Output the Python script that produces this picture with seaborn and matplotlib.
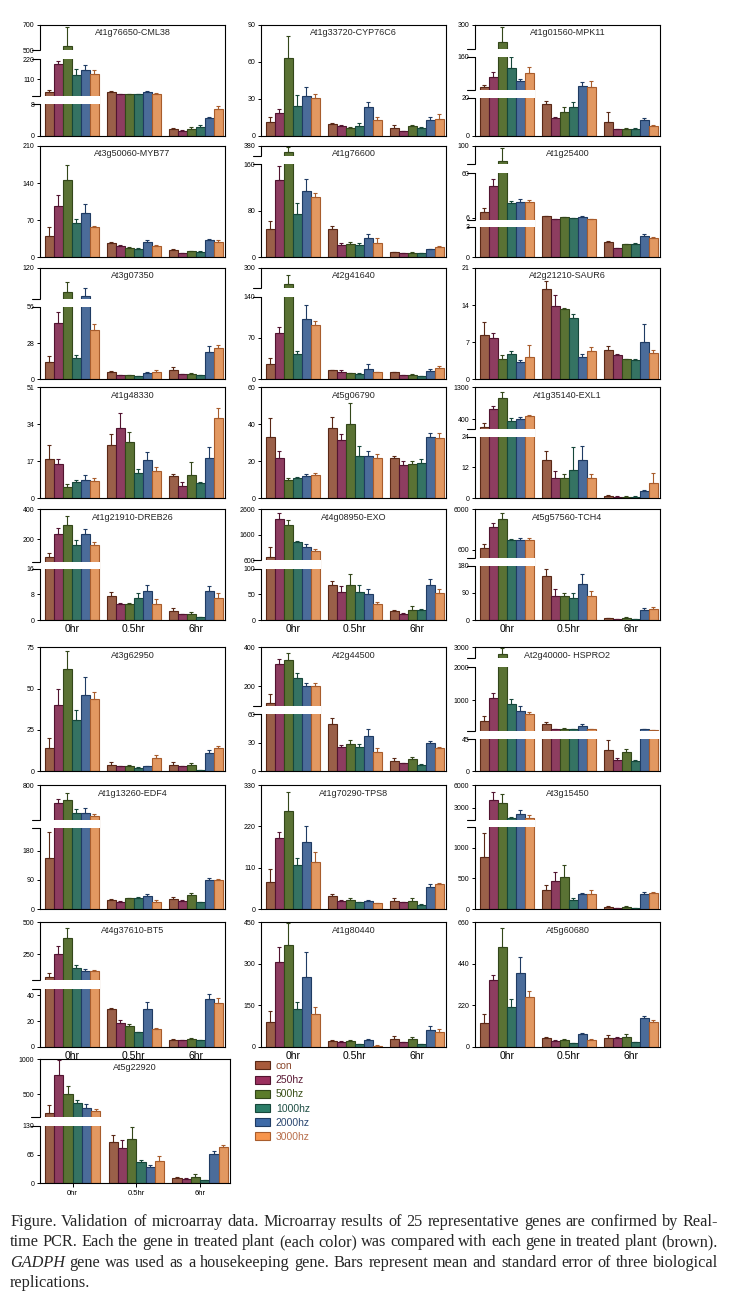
import numpy as np
import pandas as pd
import seaborn as sns
import matplotlib.pyplot as plt
from matplotlib.patches import Rectangle, Patch
from matplotlib.transforms import IdentityTransform

sns.set_style("ticks", {"axes.edgecolor": "black", "xtick.color": "black", "ytick.color": "black"})
plt.rcParams["font.family"] = ["Liberation Sans", "DejaVu Sans"]

times = ["0hr", "0.5hr", "6hr"]
treatments = ["con", "250hz", "500hz", "1000hz", "2000hz", "3000hz"]
bar_colors = ["#a85a3b", "#9b2f5e", "#5c7c2a", "#2b7d68", "#3e6aa7", "#f7954c"]
edge_colors = ["#5a2816", "#521430", "#33471a", "#16473a", "#1f3b63", "#a85c2c"]
label_colors = ["#8b4a2e", "#5a1a35", "#3a4f18", "#1f4f45", "#2a4670", "#b86e4b"]

genes = ["At1g76650-CML38", "At1g33720-CYP76C6", "At1g01560-MPK11",
         "At3g50060-MYB77", "At1g76600", "At1g25400",
         "At3g07350", "At2g41640", "At2g21210-SAUR6",
         "At1g48330", "At5g06790", "At1g35140-EXL1",
         "At1g21910-DREB26", "At4g08950-EXO", "At5g57560-TCH4",
         "At3g62950", "At2g44500", "At2g40000- HSPRO2",
         "At1g13260-EDF4", "At1g70290-TPS8", "At3g15450",
         "At4g37610-BT5", "At1g80440", "At5g60680",
         "At5g22920"]

# mean per gene: 0hr (con..3000hz), 0.5hr, 6hr
means = [
    [42, 194, 532, 134, 161, 139, 42, 29, 29, 29, 42, 29, 1.85, 1.3, 1.85, 2.4, 4.6, 6.8],
    [11, 18.3, 62.8, 24, 32.3, 30.5, 9.7, 8.1, 6.7, 8.1, 23.2, 12.9, 6.5, 4, 8.1, 6.7, 12.9, 13.7],
    [35.8, 76, 228, 112.6, 61, 92, 16.7, 9.2, 12.3, 15.3, 41, 35.8, 7.5, 3.5, 3.8, 3.8, 8.3, 5.2],
    [40.9, 96, 145, 64, 83, 56.6, 26.4, 20.8, 17.6, 15.7, 29, 21.4, 13.8, 7.5, 11.3, 10.7, 32.7, 29],
    [48, 132.6, 329, 74, 113.7, 103, 48, 21, 22, 21, 32.6, 24, 8.6, 6.9, 8, 6.9, 13.7, 18.3],
    [13.3, 44.7, 83.6, 24.3, 25.5, 25.5, 8, 4.4, 6.4, 5.2, 7.2, 4.4, 1.53, 0.88, 1.27, 1.27, 2.08, 1.92],
    [13.2, 43.8, 88.7, 16.8, 83.5, 38.4, 5.6, 3.1, 3.1, 2.3, 4.8, 5.6, 6.9, 3.8, 3.8, 3.1, 20.9, 23.9],
    [25.4, 78.5, 218, 42.4, 102.8, 91.5, 15.3, 12.4, 10.7, 9.6, 18, 12.4, 12.4, 6.8, 7.9, 5.6, 14.1, 19.2],
    [8.4, 7.8, 3.9, 4.7, 3.3, 4.2, 17, 13.8, 13.2, 11.6, 4.3, 5.3, 5.5, 4.5, 3.8, 3.7, 7, 5],
    [17.9, 15.6, 5.1, 7.4, 8.4, 7.9, 24.5, 32.2, 25.7, 11.5, 17.6, 12.6, 10.3, 5.7, 10.6, 7.2, 18.4, 36.8],
    [33, 21.6, 9.9, 11.2, 12.1, 12.6, 37.8, 31.5, 40, 22.9, 22.9, 21.6, 21.6, 18, 18.6, 18.9, 33, 32.4],
    [175, 681, 990, 362, 400, 494, 14.9, 7.8, 7.8, 11, 14.9, 7.8, 0.9, 0.65, 0.65, 0.65, 2.85, 5.8],
    [80, 235.6, 295.6, 162, 235.6, 162, 7.6, 5, 5, 6.8, 9.1, 4.9, 2.8, 1.9, 1.9, 0.85, 9.1, 6.8],
    [731, 2205, 1979, 1297, 1126, 955, 68.6, 54.9, 68.6, 54.9, 51, 30.7, 17.6, 11.8, 19.6, 19.6, 68.6, 53.6],
    [821, 3610, 4672, 1928, 1928, 1928, 146.7, 81, 81, 72, 118.9, 80, 5.6, 2.2, 5.6, 4.4, 33, 36.7],
    [13.7, 40, 61.8, 30.7, 45.9, 43.6, 3.6, 3, 3.2, 2, 3, 8.1, 3.6, 3, 3.6, 0.6, 11.1, 14.1],
    [112, 312, 337, 244, 202, 200, 49.8, 25, 28.6, 25, 37.1, 20.5, 11, 8.1, 12.7, 6.4, 29.3, 24.7],
    [357, 1051, 2714, 878, 663, 571, 265, 112, 112, 112, 204, 102, 30.4, 15.9, 27, 13.5, 102, 82],
    [157, 590, 629, 476, 476, 446, 27.9, 22.7, 33, 35, 40, 22.7, 31, 25.8, 43.4, 21.7, 90, 90],
    [71, 188, 261, 117, 177.5, 124, 34.6, 21.3, 24, 17.7, 22, 15.1, 21.3, 17.7, 22.2, 10.6, 57.7, 66.5],
    [842, 4015, 3573, 1676, 2117, 1676, 310, 456.5, 516, 147, 245, 245, 27, 11, 27, 11, 245, 255],
    [75, 255, 379, 147, 119, 119, 29.4, 18.2, 16.1, 11.2, 29.1, 13.8, 5.2, 5.2, 5.7, 5.2, 36.9, 33.8],
    [88, 307.6, 368, 135, 251, 117, 20.5, 18, 20.5, 8.4, 24, 3.6, 26.5, 15.7, 26.5, 8.4, 60.3, 51.9],
    [124, 352, 527, 209, 389, 262, 44, 30, 35, 19.5, 67, 35, 48, 44, 53, 23, 150, 133],
    [241, 774, 505, 382, 311, 264, 93.7, 80.9, 100.5, 48.4, 37.8, 50.6, 11.3, 9.8, 13.6, 7.6, 65.8, 83],
]

# standard error (upper bar only)
errors = [
    [10, 18, 147, 31, 28, 22, 4, 2, 2, 2, 6, 7, 0.3, 0.1, 0.5, 0.4, 0.3, 0.9],
    [4, 3.5, 18, 9, 7.7, 3.2, 0.5, 0.8, 0.8, 2.1, 4.6, 2.1, 2.1, 0.3, 0.8, 0.5, 2.2, 3.8],
    [10.8, 22, 61, 44, 8, 27, 1.7, 0.9, 3, 2.6, 14.8, 25, 4.8, 0.2, 0.3, 0.3, 1.1, 0.4],
    [15.7, 21, 29, 9, 17.6, 3.1, 3.2, 2.5, 1, 1.2, 3.7, 1.2, 1.2, 1.2, 0.8, 0.6, 1.9, 3.7],
    [14, 24.4, 46, 20, 20.3, 8, 6, 3, 5, 3, 6.8, 8.6, 1.1, 0.5, 0.5, 0.5, 0.6, 1.7],
    [4.1, 8.1, 13.9, 2.1, 3.3, 2, 0.6, 0.3, 0.3, 0.3, 0.4, 0.3, 0.05, 0.03, 0.03, 0.1, 0.17, 0.08],
    [5.1, 8.2, 13, 2.2, 10.4, 4.3, 0.8, 0.3, 0.5, 0.3, 0.8, 1.3, 3, 0.3, 1.3, 0.3, 5.1, 2.6],
    [11.3, 10.2, 49, 5.6, 22.6, 6.8, 0.8, 2.9, 0.8, 0.5, 7.4, 0.8, 0.8, 0.5, 0.5, 0.3, 2.9, 3.4],
    [2.4, 1, 0.6, 0.6, 0.3, 2.3, 1.5, 2.2, 0.3, 0.8, 0.4, 0.8, 0.7, 0.3, 0.1, 0.1, 3.4, 0.5],
    [6.4, 2.6, 1.3, 1, 2.3, 1.6, 4.9, 6.8, 4.6, 1.8, 3.5, 1.9, 0.7, 1.7, 5.9, 0.2, 5, 4.5],
    [10.2, 4, 1.3, 0.5, 0.9, 0.9, 6, 3.1, 11.4, 5.4, 2.7, 2.2, 1.3, 2.2, 1.8, 2.2, 2.1, 2.7],
    [112, 94, 188, 85, 56, 28, 3.5, 2.8, 1.5, 9.1, 5.6, 1.5, 0.3, 0.05, 0.05, 0.05, 0.35, 4.2],
    [31, 37, 60, 33, 31, 18, 1.3, 0.2, 0.2, 1.6, 1.8, 1.7, 0.9, 0.1, 0.5, 0.1, 1.7, 1.6],
    [395, 263, 200, 66, 92, 66, 7.9, 11.8, 21.4, 13.7, 9, 3.9, 2, 1.2, 7.9, 2, 11.1, 6.4],
    [531, 531, 885, 133, 221, 221, 22.2, 21, 10, 19, 34, 16.7, 1, 0.5, 3.3, 0.5, 5.9, 7.7],
    [6.5, 9.7, 10.9, 6.1, 10.9, 4.5, 1.7, 0.2, 0.4, 0.2, 0.2, 1.6, 1.7, 0.2, 1, 0.1, 1.4, 1.1],
    [49, 29, 34, 25.5, 12, 14, 6, 2.6, 4.3, 3.6, 7.1, 3.5, 3.1, 0.7, 1.8, 0.7, 2.5, 0.5],
    [153, 153, 243, 142, 153, 51, 51, 10, 21, 10, 72, 5, 13.1, 2.5, 4.4, 2.4, 3, 3],
    [80, 50, 76, 50, 57, 19, 2, 2, 2, 3, 5.5, 5.2, 5, 2, 7.3, 1, 7.2, 3],
    [34.6, 18, 51, 18, 43.5, 27, 4.4, 1.5, 4.4, 1, 1.5, 1.5, 7.1, 1.8, 6.2, 1.8, 8.8, 1.8],
    [403, 1014, 1191, 132, 573, 353, 81, 141.5, 201, 27, 10, 65, 22, 3, 27, 3, 38, 17],
    [31, 59, 75, 23, 20, 12, 0.5, 2.6, 1.3, 0.3, 5.4, 0.5, 0.8, 0.3, 0.8, 0.3, 3.9, 4.4],
    [41, 52.4, 78, 28, 93, 26.5, 2.5, 1, 3.5, 1, 2.5, 1, 10.9, 2, 7.3, 2, 15.7, 10.8],
    [48, 27, 105, 42, 85, 35, 7, 3, 3.5, 2, 3.5, 3.5, 14, 5, 12.5, 2, 13, 7],
    [108, 212, 118, 38, 47, 28, 15.9, 17.4, 26.5, 4.6, 3.8, 11.4, 2.3, 1.5, 6.8, 0.8, 7.5, 3],
]

yticks = [
    [0, 8, 110, 220, 500, 700], [0, 30, 60, 90], [0, 20, 160, 300],
    [0, 70, 140, 210], [0, 80, 160, 380], [0, 3, 6, 60, 100],
    [0, 28, 56, 120], [0, 70, 140, 300], [0, 7, 14, 21],
    [0, 17, 34, 51], [0, 20, 40, 60], [0, 12, 24, 400, 1300],
    [0, 8, 16, 200, 400], [0, 50, 100, 600, 1600, 2600], [0, 90, 180, 600, 6000],
    [0, 25, 50, 75], [0, 30, 60, 200, 400], [0, 45, 1000, 2000, 3000],
    [0, 90, 180, 800], [0, 110, 220, 330], [0, 500, 1000, 3000, 6000],
    [0, 20, 40, 250, 500], [0, 150, 300, 450], [0, 220, 440, 660],
    [0, 65, 130, 500, 1000],
]

# broken y axis: (value, fraction of axis height); last value is the axis top
knots = [
    [(0, 0), (8, .284), (20, .362), (220, .689), (500, .772), (700, 1)],
    [(0, 0), (90, 1)],
    [(0, 0), (20, .344), (25, .413), (160, .713), (200, .778), (300, 1)],
    [(0, 0), (210, 1)],
    [(0, 0), (160, .838), (300, .91), (380, 1)],
    [(0, 0), (3, .275), (3.15, .335), (60, .754), (80, .835), (100, 1)],
    [(0, 0), (56, .65), (80, .725), (120, 1)],
    [(0, 0), (140, .743), (200, .82), (300, 1)],
    [(0, 0), (21, 1)],
    [(0, 0), (51, 1)],
    [(0, 0), (60, 1)],
    [(0, 0), (24, .556), (120, .622), (1300, 1)],
    [(0, 0), (16, .461), (50, .527), (400, 1)],
    [(0, 0), (100, .461), (600, .542), (2600, 1)],
    [(0, 0), (180, .488), (300, .557), (600, .633), (6000, 1)],
    [(0, 0), (75, 1)],
    [(0, 0), (60, .458), (100, .528), (400, 1)],
    [(0, 0), (45, .256), (50, .323), (2000, .838), (2500, .911), (3000, 1)],
    [(0, 0), (250, .651), (400, .718), (800, 1)],
    [(0, 0), (330, 1)],
    [(0, 0), (1340, .664), (1370, .718), (6000, 1)],
    [(0, 0), (45, .464), (50, .536), (500, 1)],
    [(0, 0), (450, 1)],
    [(0, 0), (660, 1)],
    [(0, 0), (130, .461), (175, .531), (1000, 1)],
]

# white gap bands of the broken axes: (low, high, right edge in axes fraction)
L = 0.325
gaps = [
    [(8, 20, L), (220, 500, L)], [], [(20, 25, L), (160, 200, L)],
    [], [(160, 300, L)], [(3, 3.15, L), (60, 80, L)],
    [(56, 80, L)], [(140, 200, L)], [],
    [], [], [(24, 120, L)],
    [(16, 50, L)], [(100, 600, L)], [(180, 300, L)],
    [], [(60, 100, L)], [(45, 50, 1.0), (2000, 2500, L)],
    [(250, 400, L)], [], [(1340, 1370, L)],
    [(45, 50, L)], [], [],
    [(130, 175, L)],
]

W, H = 729, 1300
row_top = [24.7, 146, 268, 387.3, 509.3, 647.3, 785, 922.3, 1059]
row_bot = [136, 257.3, 379.3, 498.3, 620, 771, 909, 1046.7, 1183.3]
col_left = [40, 261, 475]
col_w = 185


def piecewise(kn):
    v = [k[0] for k in kn]
    f = [k[1] for k in kn]
    v = [v[0] - (v[1] - v[0]) * 10] + v + [v[-1] + (v[-1] - v[-2]) * 10]
    f = [f[0] - (f[1] - f[0]) * 10] + f + [f[-1] + (f[-1] - f[-2]) * 10]
    return (lambda x: np.interp(x, v, f)), (lambda y: np.interp(y, f, v))


fig = plt.figure(figsize=(W / 100, H / 100), dpi=100)

for k, gene in enumerate(genes):
    r, c = divmod(k, 3)
    w = 190 if k == 24 else col_w
    top, bot = row_top[r], row_bot[r]
    ax = fig.add_axes([col_left[c] / W, 1 - bot / H, w / W, (bot - top) / H])

    df = pd.DataFrame({"time": np.repeat(times, 6),
                       "treatment": treatments * 3,
                       "value": means[k]})
    sns.barplot(data=df, x="time", y="value", hue="treatment", order=times,
                hue_order=treatments, palette=bar_colors, errorbar=None,
                width=0.87, gap=0, linewidth=0.8, legend=False, ax=ax)

    bars = list(ax.containers)
    for i, cont in enumerate(bars):
        xs, ys, es = [], [], []
        for p in cont:
            p.set_edgecolor(edge_colors[i])
            xc = p.get_x() + p.get_width() / 2
            t = int(round(xc))
            xs.append(xc)
            ys.append(p.get_height())
            es.append(errors[k][t * 6 + i])
        ax.errorbar(xs, ys, yerr=[np.zeros(len(es)), es], fmt="none",
                    ecolor=edge_colors[i], elinewidth=0.8, capsize=1.6,
                    capthick=0.8, zorder=3)

    fwd, inv = piecewise(knots[k])
    ax.set_yscale("function", functions=(fwd, inv))
    ax.set_ylim(0, knots[k][-1][0])
    ax.set_xlim(-0.51, 2.47)
    ax.set_yticks(yticks[k])
    ax.set_yticklabels([str(t) for t in yticks[k]])
    ax.set_xlabel("")
    ax.set_ylabel("")
    ax.tick_params(axis="y", length=2.5, width=0.7, pad=1.5, labelsize=5)
    for s in ax.spines.values():
        s.set_linewidth(0.8)

    if r in (4, 7):
        ax.tick_params(axis="x", length=0, pad=3, labelsize=7.5)
    elif k == 24:
        ax.tick_params(axis="x", length=3, width=0.7, pad=2, labelsize=5.5)
    else:
        ax.tick_params(axis="x", length=0, labelbottom=False)

    ytr = ax.get_yaxis_transform()
    for lo, hi, xr in gaps[k]:
        ax.add_patch(Rectangle((-0.015, lo), xr + 0.015, hi - lo, transform=ytr,
                               facecolor="white", edgecolor="none",
                               zorder=5, clip_on=False))
        for v in (lo, hi):
            ax.plot([-0.045, 0], [v, v], transform=ytr, color="black",
                    lw=0.8, clip_on=False, zorder=6)

    ax.text(0.5, 1 - 8 / (bot - top), gene, transform=ax.transAxes,
            ha="center", va="center", fontsize=6.5, zorder=7)

handles = [Patch(facecolor=bar_colors[i], edgecolor=edge_colors[i], linewidth=0.8)
           for i in range(6)]
fig.legend(handles, treatments, loc="upper left",
           bbox_to_anchor=(255 / W, 1 - 1061 / H), frameon=False, fontsize=7.5,
           labelcolor=label_colors, handlelength=1.4, handleheight=0.8,
           handletextpad=0.6, labelspacing=0.4, borderpad=0, borderaxespad=0)

# caption, justified like the original
caption = [
    "Figure. Validation of microarray data. Microarray results of 25 representative genes are confirmed by Real-",
    "time PCR. Each the gene in treated plant (each color) was compared with each gene in treated plant (brown).",
    "GADPH gene was used as a housekeeping gene. Bars represent mean and standard error of three biological",
    "replications.",
]
cap_base = [1226, 1246, 1267, 1287]
x0, x1 = 10, 718
renderer = fig.canvas.get_renderer()

# size the serif font so the first line fills the text width
probe = fig.text(0, 0, caption[0], fontsize=10, family="Liberation Serif",
                 transform=IdentityTransform())
cap_fs = 10 * (x1 - x0) / probe.get_window_extent(renderer).width * 0.985
probe.remove()

for n, line in enumerate(caption):
    words = line.split(" ")
    items = []
    for wd in words:
        st = "italic" if wd == "GADPH" else "normal"
        items.append(fig.text(0, H - cap_base[n], wd, fontsize=cap_fs, family="Liberation Serif",
                              style=st, va="baseline", transform=IdentityTransform()))
    widths = [t.get_window_extent(renderer).width for t in items]
    if n < len(caption) - 1 and len(items) > 1:
        space = (x1 - x0 - sum(widths)) / (len(items) - 1)
    else:
        space = cap_fs * 0.35
    x = x0
    for t, wd in zip(items, widths):
        t.set_x(x)
        x += wd + space

fig.savefig("out.png", dpi=100)
